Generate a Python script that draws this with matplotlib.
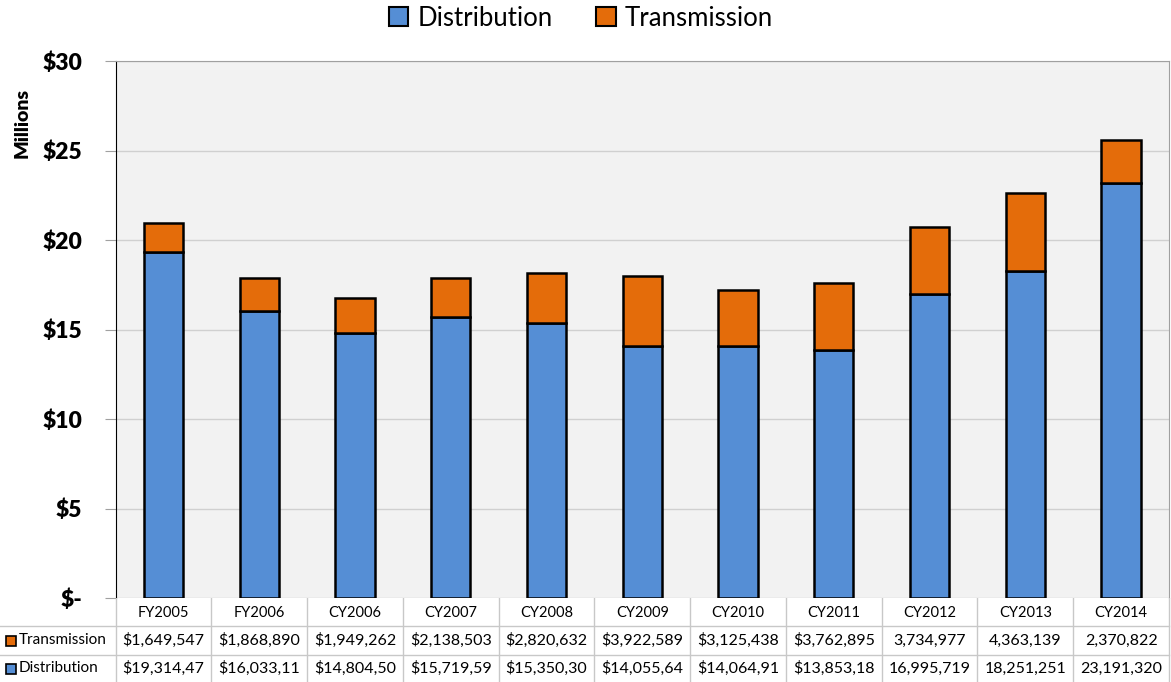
import matplotlib.pyplot as plt
from matplotlib.patches import Patch

plt.rcParams['font.family'] = ['Lato', 'DejaVu Sans']

# data
years = ["FY2005", "FY2006", "CY2006", "CY2007", "CY2008", "CY2009",
         "CY2010", "CY2011", "CY2012", "CY2013", "CY2014"]
distribution = [19314470, 16033110, 14804500, 15719590, 15350300, 14055640,
                14064910, 13853180, 16995719, 18251251, 23191320]
transmission = [1649547, 1868890, 1949262, 2138503, 2820632, 3922589,
                3125438, 3762895, 3734977, 4363139, 2370822]
# table text as printed (some cells are cut off in the source)
dist_text = ["$19,314,47", "$16,033,11", "$14,804,50", "$15,719,59", "$15,350,30",
             "$14,055,64", "$14,064,91", "$13,853,18", "16,995,719", "18,251,251",
             "23,191,320"]
trans_text = ["$1,649,547", "$1,868,890", "$1,949,262", "$2,138,503", "$2,820,632",
              "$3,922,589", "$3,125,438", "$3,762,895", "3,734,977", "4,363,139",
              "2,370,822"]
yticks = [0, 5, 10, 15, 20, 25, 30]
ytick_labels = ["$-", "$5", "$10", "$15", "$20", "$25", "$30"]

blue = '#558ed5'
orange = '#e46c0a'
W, H = 1171, 682

fig = plt.figure(figsize=(W / 100, H / 100), dpi=100)
left, right, top, bottom = 115.5, 1169, 61, 598
ax = fig.add_axes([left / W, (H - bottom) / H, (right - left) / W, (bottom - top) / H])
ax.set_facecolor('#f2f2f2')

x = list(range(len(years)))
d_m = [v / 1e6 for v in distribution]
t_m = [v / 1e6 for v in transmission]
ax.bar(x, d_m, width=0.41, color=blue, edgecolor='black', linewidth=1.8, zorder=3)
ax.bar(x, t_m, bottom=d_m, width=0.41, color=orange, edgecolor='black', linewidth=1.8, zorder=3)

ax.set_xlim(-0.5, len(years) - 0.5)
ax.set_ylim(0, 30)
ax.set_yticks(yticks)
ax.set_yticklabels(ytick_labels, fontsize=16.5, fontweight='heavy')
ax.set_xticks([])
ax.yaxis.grid(True, color='#d0d0d0', linewidth=1, zorder=0)
ax.tick_params(axis='y', length=8, color='#a0a0a0', pad=16)
for s in ['top', 'right']:
    ax.spines[s].set_color('#a0a0a0')
ax.spines['left'].set_color('black')
ax.spines['bottom'].set_visible(False)
fig.text(22 / W, 1 - 123 / H, 'Millions', rotation=90, ha='center', va='center',
         fontsize=14, fontweight='heavy')

# legend
handles = [Patch(facecolor=blue, edgecolor='black', linewidth=1.5, label='Distribution'),
           Patch(facecolor=orange, edgecolor='black', linewidth=1.5, label='Transmission')]
fig.legend(handles=handles, loc='center', bbox_to_anchor=(581 / W, 1 - 18 / H), ncol=2,
           frameon=False, fontsize=18.5, handlelength=0.75, handleheight=0.75,
           handletextpad=0.35, columnspacing=1.7)

# data table under the plot
tab = fig.add_axes([0, 0, 1, (H - bottom) / H])
tab.set_xlim(0, W)
tab.set_ylim(H, bottom)
tab.axis('off')
cw = (right - left) / len(years)
rows = [bottom, 626, 655, H]
lc = '#c8c8c8'
for r in rows[1:3]:
    tab.plot([0, right], [r, r], color=lc, lw=1)
for i in range(len(years) + 1):
    xx = left + i * cw
    tab.plot([xx, xx], [bottom, H], color=lc, lw=1)
for i, yr in enumerate(years):
    cx = left + (i + 0.5) * cw
    tab.text(cx, (rows[0] + rows[1]) / 2 + 1, yr, ha='center', va='center', fontsize=10.5)
    tab.text(cx, (rows[1] + rows[2]) / 2, trans_text[i], ha='center', va='center', fontsize=11.5)
    tab.text(cx, (rows[2] + rows[3]) / 2, dist_text[i], ha='center', va='center', fontsize=11.5)
for r0, r1, col, name in [(rows[1], rows[2], orange, 'Transmission'),
                          (rows[2], rows[3], blue, 'Distribution')]:
    cy = (r0 + r1) / 2
    tab.add_patch(plt.Rectangle((6, cy - 5), 10, 10, facecolor=col, edgecolor='black', lw=1.2))
    tab.text(19, cy, name, ha='left', va='center', fontsize=11)

fig.savefig('out.png', dpi=100)
